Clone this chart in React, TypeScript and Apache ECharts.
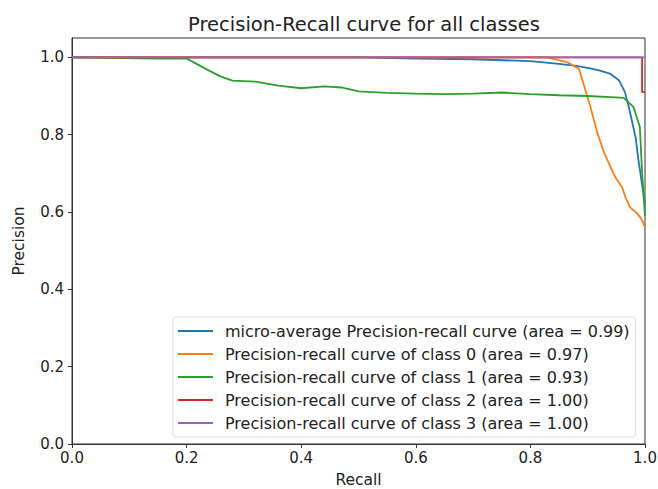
import React, { useEffect, useRef } from "react";
import * as echarts from "echarts";

const seriesNames = [
  "micro-average Precision-recall curve (area = 0.99)",
  "Precision-recall curve of class 0 (area = 0.97)",
  "Precision-recall curve of class 1 (area = 0.93)",
  "Precision-recall curve of class 2 (area = 1.00)",
  "Precision-recall curve of class 3 (area = 1.00)",
];
const seriesColors = ["#1f77b4", "#ff7f0e", "#2ca02c", "#d62728", "#9467bd"];

const microRecall = [0, 0.5, 0.6, 0.7, 0.8, 0.85, 0.88, 0.9, 0.92, 0.94, 0.955, 0.965, 0.972, 0.978, 0.984, 0.988, 0.992, 0.996, 1.0];
const microPrecision = [1, 1, 0.997, 0.995, 0.99, 0.983, 0.978, 0.973, 0.966, 0.957, 0.94, 0.91, 0.87, 0.83, 0.79, 0.74, 0.7, 0.66, 0.62];

const class0Recall = [0, 0.8, 0.83, 0.865, 0.885, 0.896, 0.905, 0.917, 0.929, 0.94, 0.948, 0.96, 0.966, 0.974, 0.986, 0.995, 1.0];
const class0Precision = [1, 1, 1, 0.987, 0.97, 0.915, 0.871, 0.804, 0.752, 0.716, 0.69, 0.664, 0.638, 0.612, 0.597, 0.579, 0.56];

const class1Recall = [0, 0.15, 0.2, 0.215, 0.24, 0.26, 0.28, 0.32, 0.36, 0.4, 0.44, 0.47, 0.5, 0.55, 0.6, 0.65, 0.7, 0.75, 0.8, 0.85, 0.9, 0.94, 0.963, 0.98, 0.991, 0.995, 1.0];
const class1Precision = [1, 0.997, 0.997, 0.985, 0.965, 0.95, 0.94, 0.937, 0.927, 0.92, 0.925, 0.922, 0.912, 0.908, 0.906, 0.905, 0.906, 0.909, 0.905, 0.902, 0.9, 0.897, 0.895, 0.871, 0.82, 0.7, 0.59];

const class2Recall = [0, 0.995, 0.995, 1.0];
const class2Precision = [1, 1, 0.91, 0.91];

const class3Recall = [0, 1.0];
const class3Precision = [1, 1];

const tickValues = [0, 0.2, 0.4, 0.6, 0.8, 1.0];

const zip = (xs: number[], ys: number[]) => xs.map((x, i) => [x, ys[i]]);

const curves = [
  zip(microRecall, microPrecision),
  zip(class0Recall, class0Precision),
  zip(class1Recall, class1Precision),
  zip(class2Recall, class2Precision),
  zip(class3Recall, class3Precision),
];

const FONT = "DejaVu Sans";

export default function App() {
  const ref = useRef<HTMLDivElement>(null);
  useEffect(() => {
    if (!ref.current) return;
    const chart = echarts.init(ref.current, undefined, { renderer: "svg" });
    chart.setOption({
      animation: false,
      backgroundColor: "#ffffff",
      title: {
        text: "Precision-Recall curve for all classes",
        left: 359,
        top: 9,
        textAlign: "center",
        textStyle: { fontFamily: FONT, fontSize: 19.5, fontWeight: "normal", color: "#222" },
      },
      grid: {
        left: 72,
        right: 13,
        top: 38,
        bottom: 45,
        outerBoundsMode: "none",
        containLabel: false,
        show: true,
        borderColor: "#333",
        borderWidth: 1,
        backgroundColor: "transparent",
      },
      legend: {
        orient: "vertical",
        left: 173,
        top: 317,
        icon: "rect",
        itemWidth: 35,
        itemHeight: 2,
        itemGap: 5,
        padding: [5, 6, 5, 5],
        backgroundColor: "rgba(255,255,255,0.85)",
        borderColor: "#dddddd",
        borderWidth: 1,
        borderRadius: 3,
        textStyle: { fontFamily: FONT, fontSize: 16, color: "#222", lineHeight: 18, padding: [0, 0, 0, 7] },
        data: seriesNames,
      },
      xAxis: {
        type: "value",
        min: 0,
        max: 1,
        interval: 0.2,
        name: "Recall",
        nameLocation: "middle",
        nameGap: 28,
        nameTextStyle: { fontFamily: FONT, fontSize: 15.5, color: "#222" },
        axisLine: { show: true, onZero: false, lineStyle: { color: "#333", width: 1 } },
        axisTick: { show: true, length: 4, lineStyle: { color: "#333" } },
        axisLabel: {
          fontFamily: FONT, fontSize: 15, color: "#222", margin: 6,
          formatter: (v: number) => v.toFixed(1),
        },
        splitLine: { show: false },
      },
      yAxis: {
        type: "value",
        min: 0,
        max: 1.05,
        interval: 0.2,
        name: "Precision",
        nameLocation: "middle",
        nameGap: 45,
        nameTextStyle: { fontFamily: FONT, fontSize: 15.5, color: "#222" },
        axisLine: { show: true, onZero: false, lineStyle: { color: "#333", width: 1 } },
        axisTick: { show: true, length: 4, lineStyle: { color: "#333" }, customValues: tickValues },
        axisLabel: {
          fontFamily: FONT, fontSize: 15, color: "#222", margin: 8,
          customValues: tickValues,
          formatter: (v: number) => (v > 1.001 ? "" : v.toFixed(1)),
        },
        splitLine: { show: false },
      },
      series: curves.map((d, i) => ({
        name: seriesNames[i],
        type: "line",
        data: d,
        symbol: "none",
        color: seriesColors[i],
        lineStyle: { width: 1.8, color: seriesColors[i] },
        z: 2 + i,
      })),
    });
    return () => chart.dispose();
  }, []);
  return (
    <div
      ref={ref}
      style={{ position: "absolute", left: 0, top: 0, width: 658, height: 489 }}
    />
  );
}
